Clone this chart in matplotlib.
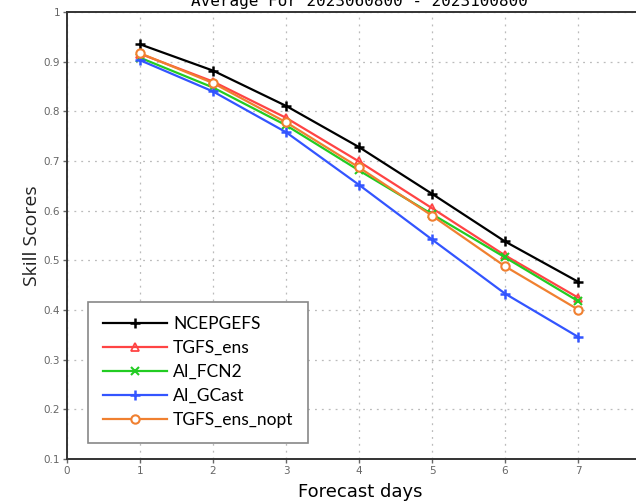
import matplotlib

matplotlib.use("Agg")
import matplotlib.pyplot as plt

days = [1, 2, 3, 4, 5, 6, 7]

ncepgefs = [0.935, 0.882, 0.811, 0.728, 0.634, 0.538, 0.457]
tgfs_ens = [0.916, 0.860, 0.787, 0.699, 0.605, 0.510, 0.425]
ai_fcn2 = [0.908, 0.848, 0.772, 0.681, 0.593, 0.506, 0.418]
ai_gcast = [0.903, 0.840, 0.758, 0.652, 0.542, 0.433, 0.346]
tgfs_ens_nopt = [0.917, 0.857, 0.778, 0.687, 0.590, 0.488, 0.401]

x_ticks = [0, 1, 2, 3, 4, 5, 6, 7]
y_ticks = [0.1, 0.2, 0.3, 0.4, 0.5, 0.6, 0.7, 0.8, 0.9, 1.0]
y_tick_labels = ["0.1", "0.2", "0.3", "0.4", "0.5", "0.6", "0.7", "0.8", "0.9", "1"]

title = "Average For 2023060800 - 2023100800"

fig = plt.figure(figsize=(6.36, 5.03), dpi=100)
ax = fig.add_axes([67 / 636, 1 - 459 / 503, 1 - 67 / 636, (459 - 12) / 503])

series = [
    ("NCEPGEFS", ncepgefs, "black", dict(marker="+", markersize=7, markeredgewidth=1.8)),
    ("TGFS_ens", tgfs_ens, "#ff4444", dict(marker="^", markersize=6, markerfacecolor="none", markeredgewidth=1.3)),
    ("AI_FCN2", ai_fcn2, "#22cc22", dict(marker="x", markersize=6, markeredgewidth=1.5)),
    ("AI_GCast", ai_gcast, "#3355ff", dict(marker="+", markersize=7, markeredgewidth=1.8)),
    ("TGFS_ens_nopt", tgfs_ens_nopt, "#f08030", dict(marker="o", markersize=6, markerfacecolor="white", markeredgewidth=1.5)),
]
for label, values, color, style in series:
    ax.plot(days, values, color=color, linewidth=1.6, label=label, **style)

ax.set_xlim(0, (636 - 67) / 73)
ax.set_ylim(0.1, 1.0)
ax.set_xticks(x_ticks)
ax.set_yticks(y_ticks)
ax.set_yticklabels(y_tick_labels)
ax.tick_params(axis="both", colors="#666666", labelsize=7.5, length=3, width=1, direction="out", pad=2)
ax.grid(True, color="#bbbbbb", linestyle=(0, (1.5, 4)), linewidth=0.9)

for side in ["left", "bottom", "top"]:
    ax.spines[side].set_linestyle((0, (3, 1)))
    ax.spines[side].set_color("#333333")
    ax.spines[side].set_linewidth(1.4)
ax.spines["right"].set_visible(False)

ax.set_xlabel("Forecast days", fontsize=13, family=["Liberation Sans Narrow", "DejaVu Sans"])
ax.xaxis.set_label_coords((360 - 67) / 569, -24 / 447)
ax.xaxis.label.set_va("top")
ax.set_ylabel("Skill Scores", fontsize=14, family=["Open Sans", "DejaVu Sans"], color="#222222", labelpad=2)

fig.text(359 / 636, 1 - 6 / 503, title, ha="center", va="baseline", fontsize=11.5, family="DejaVu Sans Mono")

leg = ax.legend(
    loc="lower left",
    bbox_to_anchor=((88 - 67) / 569, (459 - 443) / 447),
    borderaxespad=0,
    prop={"family": ["Lato", "DejaVu Sans"], "size": 12.5},
    handlelength=3.7,
    handletextpad=0.35,
    labelspacing=0.46,
    borderpad=0.85,
    fancybox=False,
    framealpha=1,
    edgecolor="#888888",
)
leg.get_frame().set_linewidth(1.2)

fig.savefig("out.png", dpi=100)
